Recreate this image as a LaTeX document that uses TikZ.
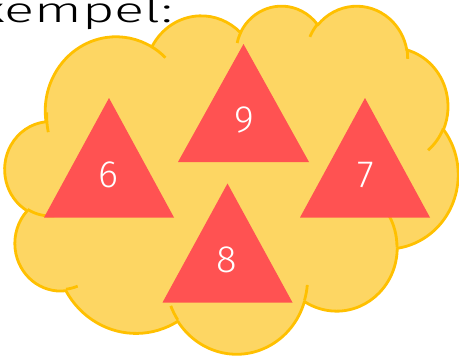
\documentclass[tikz,border=0pt]{standalone}
\usepackage{fontspec}
\newfontfamily\handfont[FakeStretch=1.6]{Fira Sans Light}
\newfontfamily\digitfont{Fira Sans Light}
\definecolor{cloudfill}{RGB}{253,214,99}
\definecolor{cloudline}{RGB}{255,192,0}
\definecolor{trired}{RGB}{255,82,82}
\newcommand\cldcalc[4]{%
  \pgfmathsetmacro\cldtmpS{atan2(#1*sin(#3),#2*cos(#3))}%
  \pgfmathsetmacro\cldtmpE{atan2(#1*sin(#3+#4),#2*cos(#3+#4))}%
  \pgfmathsetmacro\cldtmpD{\cldtmpE-\cldtmpS}%
  \pgfmathsetmacro\cldtmpD{\cldtmpD+360*and(#4>0,\cldtmpD<0)-360*and(#4<0,\cldtmpD>0)}%
  \global\let\cldS\cldtmpS
  \global\let\cldD\cldtmpD
}
\tikzset{
  carc/.style n args={4}{insert path={\pgfextra{\cldcalc{#1}{#2}{#3}{#4}} arc[x radius=#1,y radius=#2,start angle=\cldS,delta angle=\cldD]}},
  cloudedge/.style={draw=cloudline,line width=2.8pt,fill=cloudfill,line join=round},
  cloudtail/.style={draw=cloudline,line width=2.8pt},
  tri/.style={fill=trired},
  num/.style={text=white,font=\digitfont\fontsize{38}{38}\selectfont,inner sep=0pt},
}
\begin{document}
\begin{tikzpicture}[x=1pt,y=-1pt]
\useasboundingbox (0,0) rectangle (459,356);
\begin{scope}[shift={(5,5)},x=1.04861pt,y=-0.80556pt]
\path[cloudedge] (39.00,143.70)
  [carc={67.53}{91.90}{-190.48748}{123.78053}]
  [carc={53.33}{72.67}{-144.10238}{89.94523}]
  [carc={43.65}{59.45}{-145.80792}{99.72302}]
  [carc={48.57}{65.95}{-130.98607}{117.24173}]
  [carc={53.33}{72.73}{-78.70888}{109.02692}]
  [carc={67.75}{92.20}{-46.26725}{130.269}]
  [carc={57.85}{78.67}{0.62502}{114.03333}]
  [carc={67.52}{92.15}{22.4516}{115.17255}]
  [carc={77.20}{105.43}{66.24263}{75.71102}]
  [carc={43.60}{59.18}{-274.94208}{146.73557}]
  [carc={43.45}{59.45}{-246.8285}{152.51885}]
  -- cycle;
\coordinate (t1) at (46.93,261.77);
\coordinate (t2) at (69.28,348.99);
\coordinate (t3) at (164.78,390.90);
\coordinate (t4) at (288.27,347.51);
\coordinate (t5) at (341.29,229.54);
\coordinate (t6) at (417.98,153.54);
\coordinate (t7) at (383.24,54.26);
\coordinate (t8) at (290.78,39.52);
\coordinate (t9) at (221.41,47.20);
\coordinate (t10) at (140.00,51.92);
\coordinate (t11) at (41.27,157.89);
\path[cloudtail] (t1) [carc={43.45}{59.45}{86.742}{26.4295}];
\path[cloudtail] (t2) [carc={43.60}{59.18}{73.61047}{11.44747}];
\path[cloudtail] (t3) [carc={67.52}{92.15}{137.62415}{14.0811}];
\path[cloudtail] (t4) [carc={67.52}{92.15}{6.45327}{15.99835}];
\path[cloudtail] (t5) [carc={57.85}{78.67}{-70.29235}{70.91737}];
\path[cloudtail] (t6) [carc={53.33}{72.73}{30.31803}{27.7515}];
\path[cloudtail] (t7) [carc={48.57}{65.95}{-13.74433}{14.8589}];
\path[cloudtail] (t8) [carc={48.57}{65.95}{-149.18145}{18.19537}];
\path[cloudtail] (t9) [carc={43.65}{59.45}{-163.49427}{17.68635}];
\path[cloudtail] (t10) [carc={67.53}{91.90}{-66.70695}{12.31935}];
\path[cloudtail] (t11) [carc={67.53}{91.90}{163.73782}{20.74677}];
\end{scope}
\fill[tri] (109,98) -- (44,217.5) -- (174,217.5) -- cycle;
\fill[tri] (243.5,44) -- (178,162) -- (309,162) -- cycle;
\fill[tri] (365,98) -- (300,217.5) -- (430,217.5) -- cycle;
\fill[tri] (227.5,183.5) -- (162.5,302.5) -- (292.5,302.5) -- cycle;
\node[num] (n6) at (108,175) {6};
\node[num] (n9) at (244,120) {9};
\node[num] (n7) at (365.5,175) {7};
\node[num] (n8) at (227,260) {8};
\node[anchor=base east,inner sep=0pt,font=\handfont\fontsize{35}{35}\selectfont] (title) at (173,23) {exempel:};
\end{tikzpicture}
\end{document}
